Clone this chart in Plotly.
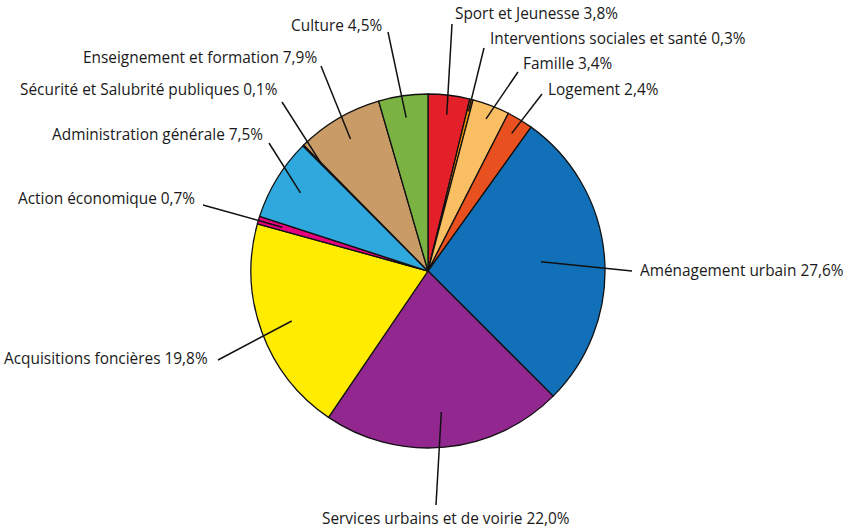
import math
import plotly.graph_objects as go

# ---- data ----
categories = [
    "Sport et Jeunesse", "Interventions sociales et santé", "Famille", "Logement",
    "Aménagement urbain", "Services urbains et de voirie", "Acquisitions foncières",
    "Action économique", "Administration générale", "Sécurité et Salubrité publiques",
    "Enseignement et formation", "Culture",
]
values = [3.8, 0.3, 3.4, 2.4, 27.6, 22.0, 19.8, 0.7, 7.5, 0.1, 7.9, 4.5]
value_labels = ["3,8%", "0,3%", "3,4%", "2,4%", "27,6%", "22,0%", "19,8%",
                "0,7%", "7,5%", "0,1%", "7,9%", "4,5%"]
colors = ["#E3202A", "#F39200", "#FBBF63", "#E8501F", "#1270B8", "#92278F",
          "#FFEC00", "#E5007E", "#2FA8DE", "#D9EEF9", "#C99B66", "#7AB342"]

# ---- layout (pixels) ----
W, H = 848, 529
CX, CY, R = 428, 271, 177
# per label: radial fraction of inner end, outer end (px), text anchor x, text y, xanchor
label_layout = [
    (0.89, (452, 24), 453, 13, "left"),
    (0.93, (484, 48), 488, 38, "left"),
    (0.92, (518, 72), 521, 63, "left"),
    (0.91, (542, 94), 546, 89, "left"),
    (0.64, (632, 271), 638, 270, "left"),
    (0.80, (436, 505), 446, 518, "center"),
    (0.82, (218, 360), 210, 358, "right"),
    (0.86, (203, 205), 197, 198, "right"),
    (0.845, (269, 143), 265, 134, "right"),
    (0.855, (282, 102), 280, 89, "right"),
    (0.865, (321, 66), 319, 57, "right"),
    (0.875, (388, 32), 384, 25, "right"),
]

fig = go.Figure()
fig.add_trace(go.Scatter(x=[None], y=[None], showlegend=False, hoverinfo="skip"))
fig.add_trace(go.Pie(
    labels=categories, values=values, sort=False, direction="clockwise", rotation=0,
    marker=dict(colors=colors, line=dict(color="#111111", width=1.3)),
    textinfo="none", hoverinfo="label+percent", showlegend=False,
    domain=dict(x=[(CX - R) / W, (CX + R) / W], y=[(H - CY - R) / H, (H - CY + R) / H]),
))

total = sum(values)
cum = 0.0
shapes, annotations = [], []
for cat, v, vl, (frac, outer, tx, ty, anc) in zip(categories, values, value_labels, label_layout):
    mid = (cum + v / 2) / total * 2 * math.pi
    cum += v
    ix = CX + frac * R * math.sin(mid)
    iy = CY - frac * R * math.cos(mid)
    shapes.append(dict(type="line", xref="x", yref="y", x0=ix, y0=iy, x1=outer[0], y1=outer[1],
                       line=dict(color="#111111", width=1.5), layer="above"))
    annotations.append(dict(x=tx, y=ty, xref="x", yref="y", text=f"{cat} {vl}", showarrow=False,
                            xanchor=anc, yanchor="middle",
                            font=dict(family="Open Sans", size=15.4, color="#1a1a1a")))

fig.update_layout(
    width=W, height=H, margin=dict(l=0, r=0, t=0, b=0),
    paper_bgcolor="white", plot_bgcolor="white",
    xaxis=dict(range=[0, W], visible=False, fixedrange=True),
    yaxis=dict(range=[H, 0], visible=False, fixedrange=True),
    shapes=shapes, annotations=annotations,
)
fig.write_html("out.html", config={"displayModeBar": False},
               post_script="document.body.style.margin='0';document.body.style.overflow='hidden';")
